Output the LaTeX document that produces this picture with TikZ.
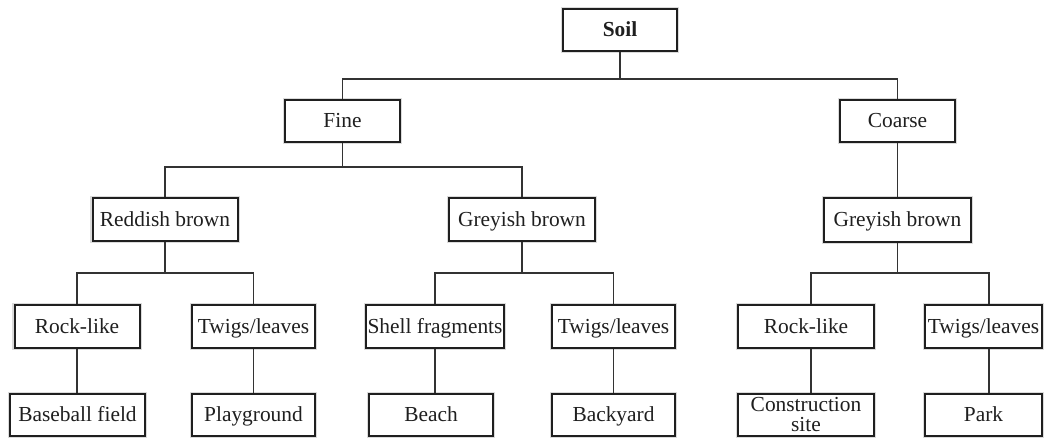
\documentclass[tikz,border=0pt]{standalone}
\usepackage{fontspec}
\setmainfont{Liberation Serif}
\begin{document}
\begin{tikzpicture}[x=1pt,y=-1pt,
  boxbase/.style={draw=black!88, line width=2pt, fill=white, inner sep=0pt, align=center,
    text=black!88, font=\fontsize{21.4}{20}\selectfont,
    preaction={draw=black!14, line width=4.4pt}},
  box/.style={boxbase, text height=16pt, text depth=3pt},
  conn/.style={draw=black!80, line width=1.3pt}]
\useasboundingbox (0,0) rectangle (1044,445);
% level 0
\node[box, minimum width=114, minimum height=42, font=\fontsize{21.4}{20}\selectfont\bfseries] (soil) at (620,30) {Soil};
% level 1
\node[box, minimum width=115, minimum height=42] (fine) at (342.5,121) {Fine};
\node[box, minimum width=115, minimum height=42] (coarse) at (897.5,121) {Coarse};
% level 2
\node[box, minimum width=145, minimum height=43] (rb) at (165,219.5) {Reddish brown};
\node[box, minimum width=146, minimum height=43] (gb1) at (522,219.5) {Greyish brown};
\node[box, minimum width=147, minimum height=44] (gb2) at (897.5,220) {Greyish brown};
% level 3
\node[box, minimum width=125, minimum height=43] (rock1) at (77,326.5) {Rock-like};
\node[box, minimum width=123, minimum height=43] (twigs1) at (253.5,326.5) {Twigs/leaves};
\node[box, minimum width=138, minimum height=43] (shell) at (435,326.5) {Shell fragments};
\node[box, minimum width=123, minimum height=43] (twigs2) at (613.5,326.5) {Twigs/leaves};
\node[box, minimum width=136, minimum height=43] (rock2) at (806,326.5) {Rock-like};
\node[box, minimum width=117, minimum height=43] (twigs3) at (983.5,326.5) {Twigs/leaves};
% level 4
\node[box, minimum width=135, minimum height=42] (base) at (77.5,415) {Baseball field};
\node[box, minimum width=123, minimum height=42] (play) at (253.5,415) {Playground};
\node[box, minimum width=124, minimum height=42] (beach) at (431,415) {Beach};
\node[box, minimum width=123, minimum height=42] (back) at (613.5,415) {Backyard};
\node[boxbase, minimum width=136, minimum height=42] (cons) at (806,415) {Construction\\site};
\node[box, minimum width=117, minimum height=42] (park) at (983.5,415) {Park};
% connectors
\draw[conn] (soil.south) -- ++(0,27) -| (fine.north);
\draw[conn] (soil.south) -- ++(0,27) -| (coarse.north);
\draw[conn] (fine.south) -- ++(0,24) -| (rb.north);
\draw[conn] (fine.south) -- ++(0,24) -| (gb1.north);
\draw[conn] (coarse.south) -- (gb2.north);
\draw[conn] (rb.south) -- ++(0,31) -| (rock1.north);
\draw[conn] (rb.south) -- ++(0,31) -| (twigs1.north);
\draw[conn] (gb1.south) -- ++(0,31) -| (shell.north);
\draw[conn] (gb1.south) -- ++(0,31) -| (twigs2.north);
\draw[conn] (gb2.south) -- ++(0,30) -| ([xshift=5pt]rock2.north);
\draw[conn] (gb2.south) -- ++(0,30) -| ([xshift=5.5pt]twigs3.north);
\draw[conn] (rock1.south) -- (rock1.south |- base.north);
\draw[conn] (twigs1.south) -- (play.north);
\draw[conn] (shell.south) -- (shell.south |- beach.north);
\draw[conn] (twigs2.south) -- (back.north);
\draw[conn] ([xshift=5pt]rock2.south) -- ([xshift=5pt]cons.north);
\draw[conn] ([xshift=5.5pt]twigs3.south) -- ([xshift=5.5pt]park.north);
\end{tikzpicture}
\end{document}
